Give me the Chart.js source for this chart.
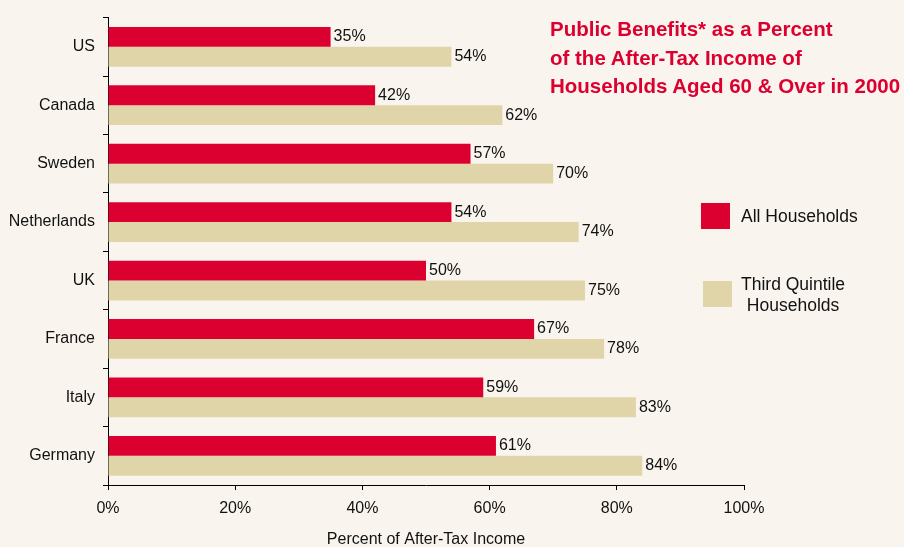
<!DOCTYPE html>
<html>
<head>
<meta charset="utf-8">
<script src="https://cdn.jsdelivr.net/npm/chart.js@4"></script>
<style>
  html, body { margin: 0; padding: 0; background: #f9f5ee; }
  #wrap { position: relative; width: 904px; height: 547px; font-family: "Liberation Sans", Arial, sans-serif; }
  #title { position: absolute; left: 550px; top: 15px; color: #dc0030; font-weight: bold; font-size: 20.5px; line-height: 28.5px; white-space: nowrap; }
  .key { position: absolute; width: 29px; height: 26px; }
  .keyText { position: absolute; font-size: 17.5px; color: #111; text-align: center; line-height: 20.5px; white-space: nowrap; }
</style>
</head>
<body>
<div id="wrap">
  <canvas id="chart" width="904" height="547"></canvas>
  <div id="title">Public Benefits* as a Percent<br>of the After-Tax Income of<br>Households Aged 60 &amp; Over in 2000</div>
  <div class="key" style="left:701px; top:203px; background:#dc0030;"></div>
  <div class="keyText" style="left:741px; top:206px;">All Households</div>
  <div class="key" style="left:703px; top:281px; background:#e0d5a8;"></div>
  <div class="keyText" style="left:741px; top:274px;">Third Quintile<br>Households</div>
</div>
<script>
// --- data ---
const countries = ['US', 'Canada', 'Sweden', 'Netherlands', 'UK', 'France', 'Italy', 'Germany'];
const allHouseholds = [35, 42, 57, 54, 50, 67, 59, 61];
const thirdQuintile = [54, 62, 70, 74, 75, 78, 83, 84];
const xTicks = [0, 20, 40, 60, 80, 100];

const FONT = '"Liberation Sans", Arial, sans-serif';

// value labels just past the end of each bar
const barLabels = {
    id: 'barLabels',
    afterDatasetsDraw(chart) {
        const c = chart.ctx;
        c.save();
        c.font = '16px ' + FONT;
        c.fillStyle = '#111';
        c.textBaseline = 'middle';
        chart.data.datasets.forEach((ds, i) => {
            chart.getDatasetMeta(i).data.forEach((bar, j) => {
                c.fillText(ds.data[j] + '%', bar.x + 3, bar.y);
            });
        });
        c.restore();
    }
};

new Chart(document.getElementById('chart'), {
    type: 'bar',
    data: {
        labels: countries,
        datasets: [
            { label: 'All Households', data: allHouseholds, backgroundColor: '#dc0030' },
            { label: 'Third Quintile Households', data: thirdQuintile, backgroundColor: '#e0d5a8' }
        ]
    },
    options: {
        indexAxis: 'y',
        responsive: false,
        animation: false,
        categoryPercentage: 0.68,
        barPercentage: 1.0,
        layout: { padding: { top: 17, right: 160, left: 0, bottom: 0 } },
        scales: {
            x: {
                min: 0, max: 100,
                afterBuildTicks: (s) => { s.ticks = xTicks.map(v => ({ value: v })); },
                afterFit: (s) => { s.height = 62; },
                grid: { drawOnChartArea: false, tickLength: 5, color: '#000' },
                border: { color: '#000' },
                ticks: { callback: v => v + '%', color: '#111', font: { size: 16, family: FONT }, padding: 9 },
                title: { display: true, text: 'Percent of After-Tax Income', color: '#111', font: { size: 16, family: FONT }, padding: { top: 4, bottom: -2 } }
            },
            y: {
                afterFit: (s) => { s.width = 108; },
                grid: { drawOnChartArea: false, tickLength: 5, color: '#000' },
                border: { color: '#000' },
                ticks: { color: '#111', font: { size: 16, family: FONT }, padding: 8 }
            }
        },
        plugins: {
            legend: { display: false },
            tooltip: { enabled: false }
        }
    },
    plugins: [barLabels]
});
</script>
</body>
</html>
